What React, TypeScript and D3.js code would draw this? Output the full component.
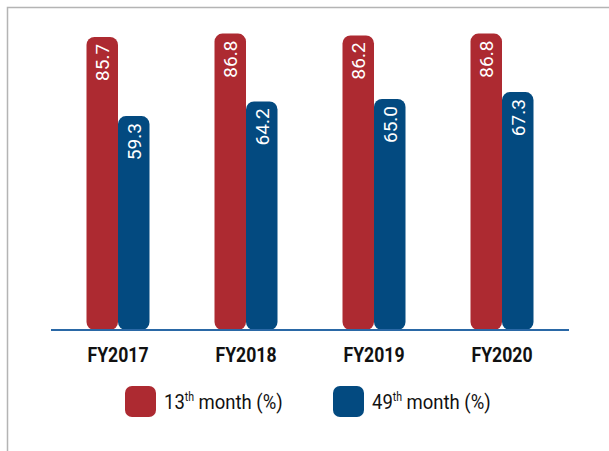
import { useEffect, useRef } from "react";
import * as d3 from "d3";

const years = ["FY2017", "FY2018", "FY2019", "FY2020"];
const month13 = [85.7, 86.8, 86.2, 86.8];
const month49 = [59.3, 64.2, 65.0, 67.3];
const seriesNames = ["13", "49"];

const RED = "#ad2a31";
const BLUE = "#034a80";

export default function App() {
  const svgRef = useRef<SVGSVGElement | null>(null);
  const width = 609;
  const height = 451;

  useEffect(() => {
    const svg = d3.select(svgRef.current);
    svg.selectAll("*").remove();

    // frame
    svg
      .append("path")
      .attr("d", `M7.5,${height} V7.5 H${width}`)
      .attr("fill", "none")
      .attr("stroke", "#b4b4b4")
      .attr("stroke-width", 1.5);

    const baseY = 330;
    const x0 = d3.scaleBand().domain(years).range([54, 566]);
    const pair = 63;
    const x1 = d3
      .scaleBand()
      .domain(seriesNames)
      .range([(x0.bandwidth() - pair) / 2, (x0.bandwidth() + pair) / 2]);
    // bars start a little below the zero line in the original
    const y = d3.scaleLinear().domain([-12, 90]).range([baseY, baseY - 306]);

    const rows = years.map((yr, i) => ({
      year: yr,
      vals: [
        { key: "13", v: month13[i], color: RED },
        { key: "49", v: month49[i], color: BLUE },
      ],
    }));

    const groups = svg
      .selectAll(".grp")
      .data(rows)
      .enter()
      .append("g")
      .attr("class", "grp")
      .attr("transform", (d) => `translate(${x0(d.year)},0)`);

    groups
      .selectAll("rect")
      .data((d) => d.vals)
      .enter()
      .append("rect")
      .attr("x", (d) => x1(d.key)!)
      .attr("y", (d) => y(d.v))
      .attr("width", x1.bandwidth())
      .attr("height", (d) => baseY - y(d.v))
      .attr("rx", 8)
      .attr("fill", (d) => d.color);

    groups
      .selectAll("text")
      .data((d) => d.vals)
      .enter()
      .append("text")
      .attr(
        "transform",
        (d) =>
          `translate(${x1(d.key)! + x1.bandwidth() / 2 + 7},${y(d.v) + 7}) rotate(-90)`
      )
      .attr("text-anchor", "end")
      .attr("font-family", "Roboto, sans-serif")
      .attr("font-size", 19)
      .attr("fill", "#fff")
      .text((d) => d.v.toFixed(1));

    // baseline
    svg
      .append("line")
      .attr("x1", 51)
      .attr("x2", 569)
      .attr("y1", baseY)
      .attr("y2", baseY)
      .attr("stroke", "#2a68a6")
      .attr("stroke-width", 1.8);

    // category labels
    svg
      .selectAll(".cat")
      .data(years)
      .enter()
      .append("text")
      .attr("class", "cat")
      .attr("x", (d) => x0(d)! + x0.bandwidth() / 2)
      .attr("y", 362)
      .attr("text-anchor", "middle")
      .attr("font-family", "Roboto, sans-serif")
      .attr("font-weight", "bold")
      .attr("font-size", 21)
      .attr("textLength", 61)
      .attr("lengthAdjust", "spacingAndGlyphs")
      .attr("fill", "#111")
      .text((d) => d);

    // legend
    const legend = [
      { n: "13", color: RED, x: 125 },
      { n: "49", color: BLUE, x: 333 },
    ];
    const lg = svg
      .selectAll(".lg")
      .data(legend)
      .enter()
      .append("g")
      .attr("class", "lg")
      .attr("transform", (d) => `translate(${d.x},386)`);
    lg.append("rect")
      .attr("width", 31)
      .attr("height", 31)
      .attr("rx", 7)
      .attr("fill", (d) => d.color);
    const lt = lg
      .append("text")
      .attr("transform", "translate(39,23) scale(0.88,1)")
      .attr("font-family", "Roboto, sans-serif")
      .attr("font-size", 21)
      .attr("fill", "#111");
    lt.append("tspan").text((d) => d.n);
    lt.append("tspan").attr("font-size", 12).attr("dy", -8).text("th");
    lt.append("tspan").attr("dy", 8).text(" month (%)");
  }, []);

  return (
    <svg
      ref={svgRef}
      width={width}
      height={height}
      style={{ position: "absolute", left: 0, top: 0, background: "#fff" }}
    />
  );
}
